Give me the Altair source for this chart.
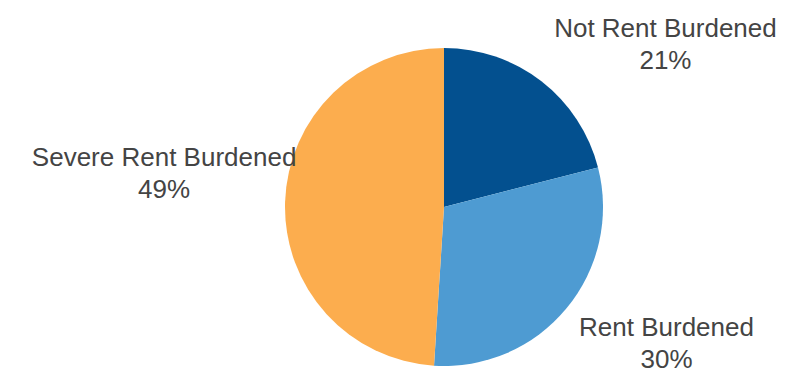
import altair as alt
import pandas as pd

categories = ["Not Rent Burdened", "Rent Burdened", "Severe Rent Burdened"]
values = [21, 30, 49]
colors = ["#03508f", "#4e9bd2", "#fcad4e"]

df = pd.DataFrame({"category": categories, "value": values, "order": [0, 1, 2]})

CX, CY, R = 436, 199, 159

arc = alt.Chart(df).mark_arc(outerRadius=R).encode(
    theta=alt.Theta("value:Q", stack=True),
    color=alt.Color("category:N", scale=alt.Scale(domain=categories, range=colors), legend=None),
    order=alt.Order("order:Q"),
    x=alt.value(CX),
    y=alt.value(CY),
)

base = (
    alt.Chart(df)
    .transform_joinaggregate(total="sum(value)")
    .transform_window(cum="sum(value)", sort=[alt.SortField("order")], frame=[None, 0])
    .transform_calculate(
        mid="(datum.cum - datum.value/2) / datum.total * 2 * PI",
        label="datum.category + '\\n' + format(datum.value / datum.total, '.0%')",
    )
)

offsets = {
    "Not Rent Burdened": (124, -52),
    "Rent Burdened": (100, 20),
    "Severe Rent Burdened": (-121, -44),
}

layers = [arc]
for cat in categories:
    dx, dy = offsets[cat]
    layers.append(
        base.transform_filter(alt.datum.category == cat)
        .mark_text(
            radius=R, dx=dx, dy=dy, font="Liberation Sans", fontSize=26,
            color="#444444", lineBreak="\n", lineHeight=32,
            align="center", baseline="middle",
        )
        .encode(
            theta=alt.Theta("mid:Q", scale=None),
            text="label:N",
            x=alt.value(CX),
            y=alt.value(CY),
        )
    )

chart = alt.layer(*layers).properties(
    width=778, height=362, padding=0, autosize="none"
).configure_view(stroke=None)

chart.save("out.html", embed_options={"renderer": "svg", "actions": False})
